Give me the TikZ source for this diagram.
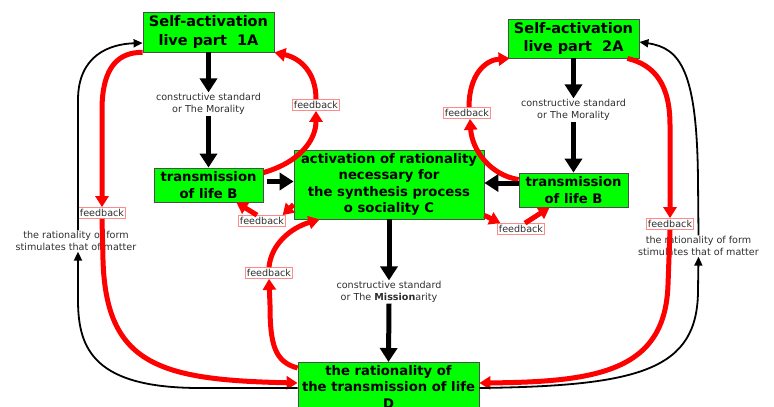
\documentclass[tikz,border=0pt]{standalone}
\usepackage{fontspec}
\setmainfont{DejaVu Sans}
\usetikzlibrary{arrows.meta,calc}
\definecolor{boxgreen}{HTML}{00FF00}
\definecolor{fbred}{HTML}{FF0000}
\definecolor{txtgrey}{HTML}{2E2E2E}
\definecolor{tagedge}{HTML}{FF8A8A}

\begin{document}
\begin{tikzpicture}[x=1pt,y=-1pt,
  box/.style={draw=black!70, line width=0.8pt, fill=boxgreen, inner sep=0pt,
    align=center, font=\bfseries\fontsize{13.2}{16.5}\selectfont},
  bigbox/.style={box, font=\bfseries\fontsize{14.5}{18.5}\selectfont},
  note/.style={align=center, text=txtgrey, inner sep=1pt,
    font=\fontsize{9.6}{11.5}\selectfont},
  tag/.style={draw=tagedge, line width=0.7pt, fill=white, text=txtgrey,
    inner xsep=1.2pt, inner ysep=1.8pt, font=\fontsize{9.6}{9.6}\selectfont},
  flow/.style={line width=5pt, -{Triangle[length=14pt,width=17pt]}},
  fb/.style={draw=fbred, line width=5pt, -{Triangle[length=11pt,width=13pt]}},
  link/.style={line width=1.8pt, -{Triangle[length=9pt,width=8pt]}}
]
\useasboundingbox (0,0) rectangle (774,407);
\clip (0,0) rectangle (774,407);

% main boxes
\node[bigbox, minimum width=131pt, minimum height=40pt] (A1) at (208.5,32)
  {Self-activation\\live part\ \ 1A};
\node[bigbox, minimum width=131pt, minimum height=39pt] (A2) at (573.5,38.5)
  {Self-activation\\live part\ \ 2A};
\node[box, minimum width=109pt, minimum height=34pt] (B1) at (208.5,185)
  {transmission\\of life B};
\node[box, minimum width=109pt, minimum height=34pt] (B2) at (573.5,190)
  {transmission\\of life B};
\node[box, minimum width=190pt, minimum height=69pt] (C) at (389,184.5)
  {activation of rationality\\necessary for\\the synthesis process\\o sociality C};
\node[box, anchor=north, minimum width=181pt, inner ysep=3pt, text depth=48pt]
  (D) at (388.5,362)
  {the rationality of\\the transmission of life\\D};

% notes on the main flows
\node[note] (M1) at (208.5,104) {constructive standard\\or The Morality};
\node[note] (M2) at (573.5,110) {constructive standard\\or The Morality};
\node[note] (M3) at (389,292) {constructive standard\\or The \textbf{Mission}arity};
\node[note] (R1) at (76,241) {the rationality of form\\stimulates that of matter};
\node[note] (R2) at (698.5,246) {the rationality of form\\stimulates that of matter};

% feedback tags
\node[tag] (fbTop) at (316,105) {feedback};
\node[tag] (fbL) at (102,213) {feedback};
\node[tag] (fbC) at (262,221) {feedback};
\node[tag] (fbM) at (269,273) {feedback};
\node[tag] (fbR1) at (467,113) {feedback};
\node[tag] (fbR3) at (521,229) {feedback};
\node[tag] (fbR2) at (670,224) {feedback};

% feedback loops
\draw[fb] (A1.south west) .. controls (120,52) and (102,65) .. (102,110) -- (fbL.north);
\draw[fb] (fbL.south) -- (103,260) .. controls (106,365) and (160,380) .. ($(D.north west)+(0,21)$);
\draw[fb] ($(D.north west)+(0,6)$) .. controls (275,362) and (270,345) .. (270,305) -- (fbM.south);
\draw[fb] (fbM.north) .. controls (271,245) and (290,228) .. ($(C.south west)+(26,0)$);
\draw[fb] ($(C.north west)+(0,55)$) -- ($(fbC.north east)+(-3,0)$);
\draw[fb] ($(fbC.north)+(-5,0)$) -- ($(B1.south east)+(-27,0)$);
\draw[fb] ($(B1.north east)+(0,5)$) .. controls (300,162) and (316,140) .. (fbTop.south);
\draw[fb] (fbTop.north) .. controls (316,72) and (300,58) .. (A1.south east);

\draw[fb] ($(B2.north west)+(0,7)$) .. controls (490,175) and (472,150) .. ($(fbR1.south)+(3,0)$);
\draw[fb] ($(fbR1.north)+(2,0)$) .. controls (469,75) and (485,60) .. ($(A2.south west)+(2,0)$);
\draw[fb] ($(A2.south east)+(-12,0)$) .. controls (655,65) and (670,85) .. (670,125) -- (fbR2.north);
\draw[fb] (fbR2.south) -- (668,285) .. controls (665,370) and (600,382) .. ($(D.north east)+(0,21)$);
\draw[fb] ($(C.south east)+(0,-4)$) -- ($(fbR3.north west)+(3,0)$);
\draw[fb] ($(fbR3.north)+(4,0)$) -- ($(B2.south west)+(31,0)$);

% main flows
\draw[flow] (A1.south) -- (M1.north);
\draw[flow] (M1.south) -- (B1.north);
\draw[flow] (A2.south) -- (M2.north);
\draw[flow] (M2.south) -- (B2.north);
\draw[flow] (C.south) -- (M3.north);
\draw[flow] (M3.south) -- (D.north);
\draw[flow] ($(B1.east)+(4,-3.5)$) -- ($(C.west)+(0,-3)$);
\draw[flow] ($(B2.west)+(0,-7)$) -- ($(C.east)+(0,-1.5)$);

% outer links through the rationality of form
\draw[link] ($(D.north west)+(0,26)$) -- (200,388) .. controls (95,388) and (78,350) .. (78,300) -- ([xshift=2pt]R1.south);
\draw[link] ([xshift=2pt]R1.north) -- (78,100) .. controls (78,55) and (110,44) .. ($(A1.west)+(0,11)$);
\draw[link] ($(D.north east)+(0,26)$) .. controls (640,386) and (698,370) .. (698,290) -- (R2.south);
\draw[link] (R2.north) -- (698,180) .. controls (697,70) and (680,48) .. ($(A2.east)+(0,3.5)$);
\end{tikzpicture}
\end{document}
